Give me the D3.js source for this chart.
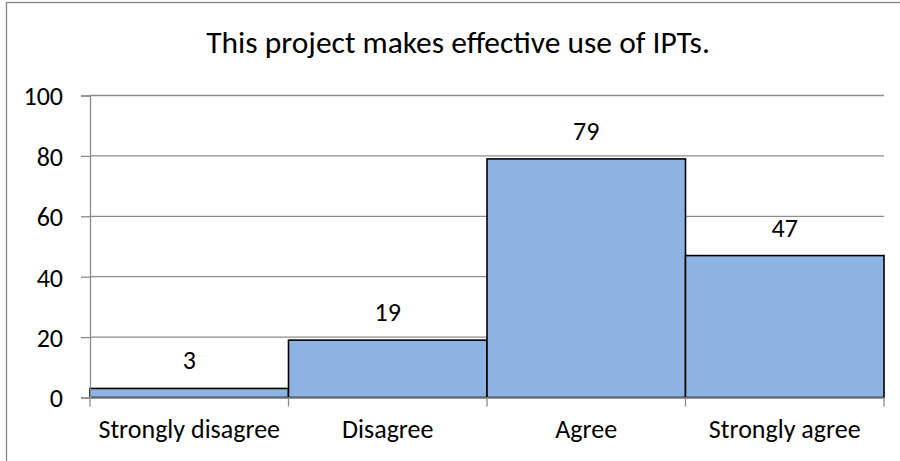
<!DOCTYPE html>
<html>
<head>
<meta charset="utf-8">
<script src="https://cdn.jsdelivr.net/npm/d3@7"></script>
<style>
  html, body { margin: 0; padding: 0; background: #fff; }
  svg { display: block; }
  text { font-family: Carlito, Calibri, Lato, "Open Sans", sans-serif; fill: #000; }
</style>
</head>
<body>
<svg id="chart" width="900" height="461"></svg>
<script>
// Survey responses
const title = "This project makes effective use of IPTs.";
const categories = ["Strongly disagree", "Disagree", "Agree", "Strongly agree"];
const counts = [3, 19, 79, 47];
const yTicks = [0, 20, 40, 60, 80, 100];

const svg = d3.select("#chart");
const W = 900, H = 461;
const labelSize = 26;
const titleSize = 31.5;

// Chart frame (only its left and top edges fall inside the page)
svg.append("rect")
  .attr("x", 6.5).attr("y", 2.5)
  .attr("width", W + 20).attr("height", H + 20)
  .attr("fill", "#fff").attr("stroke", "#868686").attr("stroke-width", 1.3);

const plot = { left: 90, right: 884, top: 95.5, bottom: 397.5 };

const x = d3.scaleBand().domain(categories).range([plot.left, plot.right]).padding(0);
const y = d3.scaleLinear().domain([0, 100]).range([plot.bottom, plot.top]);

// Horizontal gridlines
svg.append("g").selectAll("line")
  .data(yTicks.filter(d => d > 0))
  .join("line")
  .attr("x1", plot.left).attr("x2", plot.right)
  .attr("y1", d => y(d)).attr("y2", d => y(d))
  .attr("stroke", "#8c8c8c").attr("stroke-width", 1.3);

// Bars, drawn edge to edge
svg.append("g").selectAll("rect")
  .data(counts)
  .join("rect")
  .attr("x", (d, i) => x(categories[i]))
  .attr("y", d => y(d))
  .attr("width", x.bandwidth())
  .attr("height", d => y(0) - y(d))
  .attr("fill", "#8DB3E2")
  .attr("stroke", "#000").attr("stroke-width", 1.6);

// Y axis
const yAxis = d3.axisLeft(y).tickValues(yTicks).tickSize(9).tickPadding(18).tickFormat(d3.format("d"));
const gy = svg.append("g").attr("transform", `translate(${plot.left},0)`).call(yAxis);
gy.select(".domain").attr("stroke", "#8c8c8c").attr("stroke-width", 1.3);
gy.selectAll(".tick line").attr("stroke", "#8c8c8c").attr("stroke-width", 1.3);
gy.selectAll(".tick text").attr("font-size", labelSize).attr("dy", "0.36em");

// X axis with ticks on category boundaries
const gx = svg.append("g").attr("transform", `translate(0,${plot.bottom})`)
  .call(d3.axisBottom(x).tickSize(0));
gx.select(".domain").attr("stroke", "#8c8c8c").attr("stroke-width", 1.3);
gx.selectAll(".tick text").attr("font-size", labelSize).attr("y", 40.5).attr("dy", 0);
gx.selectAll(".boundary")
  .data(d3.range(categories.length + 1))
  .join("line")
  .attr("class", "boundary")
  .attr("x1", i => plot.left + i * x.bandwidth())
  .attr("x2", i => plot.left + i * x.bandwidth())
  .attr("y1", 0).attr("y2", 9)
  .attr("stroke", "#8c8c8c").attr("stroke-width", 1.3);

// Value labels above bars
svg.append("g").selectAll("text")
  .data(counts)
  .join("text")
  .attr("x", (d, i) => x(categories[i]) + x.bandwidth() / 2)
  .attr("y", d => y(d) - 19)
  .attr("text-anchor", "middle")
  .attr("font-size", labelSize)
  .text(d => d);

// Title
svg.append("text")
  .attr("x", 458).attr("y", 53)
  .attr("text-anchor", "middle")
  .attr("font-size", titleSize)
  .text(title);
</script>
</body>
</html>
